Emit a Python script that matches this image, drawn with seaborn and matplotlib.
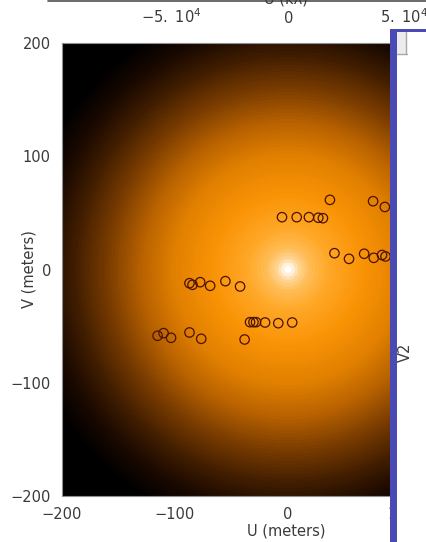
import numpy as np
import matplotlib
matplotlib.use("Agg")
import matplotlib.pyplot as plt
import seaborn as sns
import pandas as pd
from matplotlib.colors import LinearSegmentedColormap
from matplotlib.patches import Rectangle
from matplotlib.lines import Line2D

# ---- data: (u, v) baselines in meters ----
u_m = [37.1, -5.3, 7.7, 18.5, 26.8, 30.9, 75.3, 85.7, 41.1, 54.0, 67.4, 75.9, 83.2, 86.3,
       -87.2, -84.5, -77.7, -68.9, -55.4, -42.4,
       -33.6, -30.6, -28.3, -20.3, -8.6, 3.7,
       -115.4, -110.1, -103.5, -87.2, -76.8, -38.4]
v_m = [61.5, 46.2, 46.2, 46.2, 45.7, 45.3, 60.3, 55.2, 14.4, 9.4, 13.9, 10.3, 12.8, 11.5,
       -12.1, -13.5, -11.2, -14.4, -10.3, -15.0,
       -46.5, -46.5, -46.5, -46.8, -47.4, -46.8,
       -58.5, -56.2, -60.3, -55.6, -61.2, -61.8]
xticks = [-200, -100, 0, 100, 200]
yticks = [-200, -100, 0, 100, 200]
top_ticks = [-5e4, 0, 5e4]
top_labels = [r"$-5.\ 10^{4}$", r"$0$", r"$5.\ 10^{4}$"]
kl_per_m = 485.0   # kλ per meter for top axis

# radial colour profile of the background model image (radius in m -> colour)
prof_r = [0, 3, 8, 18, 35, 65, 100, 130, 160, 190, 215, 240, 290]
prof_c = ["#ffffff", "#fff2dc", "#ffd698", "#ffbc55", "#ffa828", "#fa9406",
          "#e28000", "#b86200", "#7a3c00", "#401d00", "#1a0900", "#000000", "#000000"]

sns.set_style("white")
plt.rcParams["font.family"] = ["DejaVu Sans"]
plt.rcParams["mathtext.fontset"] = "dejavusans"

W, H = 427, 542
fig = plt.figure(figsize=(W / 100, H / 100), dpi=100)
fig.patch.set_facecolor("white")

def fx(px):
    return px / W

def fy(py):
    return 1 - py / H

ax = fig.add_axes([fx(62), fy(496), 452 / W, 453 / H])

# background image
rmax = prof_r[-1]
cmap = LinearSegmentedColormap.from_list(
    "uvglow", [(r / rmax, c) for r, c in zip(prof_r, prof_c)], N=96)
g = np.linspace(-200, 200, 500)
UU, VV = np.meshgrid(g, g)
RR = np.sqrt(UU ** 2 + VV ** 2)
ax.imshow(RR, extent=[-200, 200, -200, 200], origin="lower", cmap=cmap,
          vmin=0, vmax=rmax, interpolation="bilinear", aspect="auto", zorder=0)

df = pd.DataFrame({"u": u_m, "v": v_m})
sns.scatterplot(data=df, x="u", y="v", ax=ax, marker="o", s=46,
                facecolors="none", edgecolor="#4a1200", linewidth=0.9, zorder=3)

ax.set_xlim(-200, 200)
ax.set_ylim(-200, 200)
ax.set_xticks(xticks)
ax.set_yticks(yticks)
ax.set_xticklabels([str(t).replace("-", "\u2212") for t in xticks])
ax.set_yticklabels([str(t).replace("-", "\u2212") for t in yticks])
ax.tick_params(axis="both", length=0, labelsize=10.5, labelcolor="#3a3a3a")
ax.tick_params(axis="x", pad=8)
ax.tick_params(axis="y", pad=8)
for s in ax.spines.values():
    s.set_color("#909090")
    s.set_linewidth(0.8)

ax.set_xlabel("U (meters)", fontsize=10.5, color="#3a3a3a")
ax.set_ylabel("V (meters)", fontsize=10.5, color="#3a3a3a")
ax.xaxis.set_label_coords(0.5 - (288 - 286) / 452, -(523 - 496) / 453)
ax.yaxis.set_label_coords(-(62 - 37) / 452, 0.5)

sec = ax.secondary_xaxis("top", functions=(lambda x: x * kl_per_m,
                                           lambda x: x / kl_per_m))
sec.set_xticks(top_ticks)
sec.set_xticklabels(top_labels)
sec.tick_params(length=0, labelsize=10.5, labelcolor="#3a3a3a", pad=12)
sec.spines["top"].set_visible(False)

fig.text(fx(286), fy(4), "U (kλ)", ha="center", va="baseline",
         fontsize=10.5, color="#3a3a3a")
fig.add_artist(Line2D([fx(48), fx(427)], [fy(1), fy(1)],
                      transform=fig.transFigure, color="#505050", lw=1.2))

# overlapping window on the right
blue = "#4a4ab4"
fig.add_artist(Rectangle((fx(390), 0), fx(427) - fx(390) + 0.02, fy(29),
                         transform=fig.transFigure, facecolor="white",
                         edgecolor="none", zorder=10))
fig.add_artist(Rectangle((fx(390), 0), fx(396.7) - fx(390), fy(29),
                         transform=fig.transFigure, facecolor=blue,
                         edgecolor="none", zorder=11))
fig.add_artist(Rectangle((fx(390), fy(31.7)), fx(427) - fx(390) + 0.02,
                         fy(29) - fy(31.7), transform=fig.transFigure,
                         facecolor=blue, edgecolor="none", zorder=11))
fig.add_artist(Rectangle((fx(397.5), fy(54)), fx(407) - fx(397.5),
                         fy(31.7) - fy(54), transform=fig.transFigure,
                         facecolor="#ececec", edgecolor="none", zorder=12))
fig.add_artist(Line2D([fx(406.5), fx(406.5)], [fy(32), fy(53.5)],
                      transform=fig.transFigure, color="#a8a8a8", lw=1, zorder=13))
fig.add_artist(Line2D([fx(397.5), fx(407)], [fy(53.5), fy(53.5)],
                      transform=fig.transFigure, color="#a8a8a8", lw=1, zorder=13))
fig.text(fx(405), fy(352), "V2", rotation=90, ha="center", va="center",
         fontsize=10.5, color="#3a3a3a", zorder=14)

fig.savefig("out.png", dpi=100)
